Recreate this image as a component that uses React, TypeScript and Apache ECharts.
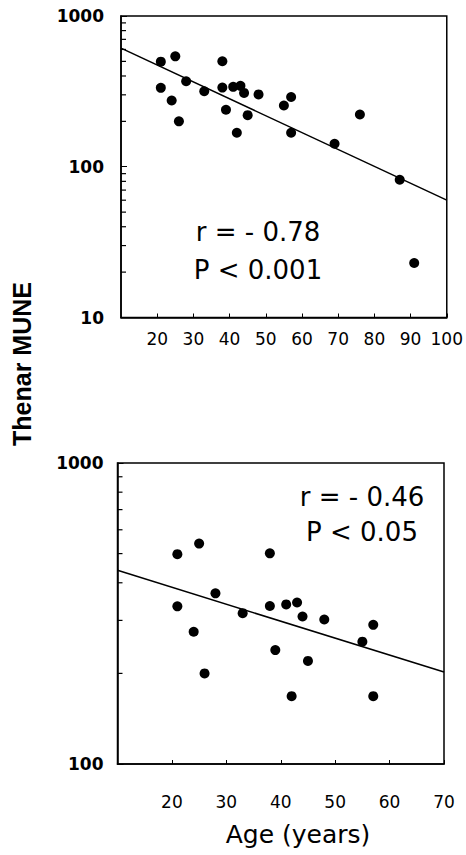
import React, { useEffect, useRef } from "react";
import * as echarts from "echarts";

// Subjects younger than 60 (shown in both panels)
const ageYoung = [21, 25, 38, 21, 24, 26, 28, 33, 38, 41, 43, 44, 48, 39, 45, 42, 55, 57, 57];
const muneYoung = [498, 540, 501, 334, 275, 200, 369, 317, 335, 339, 344, 309, 302, 239, 220, 168, 255, 290, 168];
// Older subjects (top panel only)
const ageOld = [69, 76, 87, 91];
const muneOld = [142, 222, 82, 23];

// Regression lines (end points)
const topFitAge = [10, 100];
const topFitMune = [612, 60];
const bottomFitAge = [10, 70];
const bottomFitMune = [440, 202];

// Axis tick labels / ranges
const topXTicks = [20, 30, 40, 50, 60, 70, 80, 90, 100];
const bottomXTicks = [20, 30, 40, 50, 60, 70];
const topMinorY = [20, 30, 40, 50, 60, 70, 80, 90, 200, 300, 400, 500, 600, 700, 800, 900];
const bottomMinorY = [200, 300, 400, 500, 600, 700, 800, 900];

const topStats = ["r = - 0.78", "P < 0.001"];
const bottomStats = ["r = - 0.46", "P < 0.05"];

const FONT = "DejaVu Sans";

export default function App() {
  const ref = useRef<HTMLDivElement>(null);
  useEffect(() => {
    if (!ref.current) return;
    const chart = echarts.init(ref.current, null, { renderer: "svg" });

    const allTop = ageYoung.map((a, i) => [a, muneYoung[i]]).concat(ageOld.map((a, i) => [a, muneOld[i]]));
    const allBottom = ageYoung.map((a, i) => [a, muneYoung[i]]);

    const minorTick = (xMin: number) => (params: any, api: any) => {
      const p = api.coord([xMin, api.value(1)]);
      return {
        type: "line",
        shape: { x1: p[0], y1: p[1], x2: p[0] + 5, y2: p[1] },
        style: { stroke: "#000", lineWidth: 1.2 },
      };
    };

    const xLabelBase = { fontFamily: FONT, fontSize: 17, color: "#000" };
    const yLabelBase = { fontFamily: FONT, fontWeight: "bold", fontSize: 17, color: "#000" };

    chart.setOption({
      animation: false,
      backgroundColor: "#fff",
      grid: [
        { left: 121, top: 16, right: 18.5, height: 301.5, show: true, borderColor: "#000", borderWidth: 1.5 },
        { left: 117.5, top: 463, right: 22, height: 301, show: true, borderColor: "#000", borderWidth: 1.5 },
      ],
      xAxis: [
        {
          gridIndex: 0,
          type: "value",
          min: 10,
          max: 100,
          interval: 10,
          axisLine: { lineStyle: { color: "#000", width: 1.5 } },
          axisTick: { inside: true, length: 4, lineStyle: { color: "#000" } },
          splitLine: { show: false },
          axisLabel: {
            ...xLabelBase,
            margin: 13,
            showMinLabel: false,
            showMaxLabel: true,
            formatter: (v: number) => (topXTicks.includes(v) ? String(v) : ""),
          },
        },
        {
          gridIndex: 1,
          type: "value",
          min: 10,
          max: 70,
          interval: 10,
          axisLine: { lineStyle: { color: "#000", width: 1.5 } },
          axisTick: { inside: true, length: 4, lineStyle: { color: "#000" } },
          splitLine: { show: false },
          axisLabel: {
            ...xLabelBase,
            margin: 29,
            showMinLabel: false,
            showMaxLabel: true,
            formatter: (v: number) => (bottomXTicks.includes(v) ? String(v) : ""),
          },
        },
      ],
      yAxis: [
        {
          gridIndex: 0,
          type: "log",
          logBase: 10,
          min: 10,
          max: 1000,
          axisLine: { lineStyle: { color: "#000", width: 1.5 } },
          axisTick: { inside: true, length: 6, lineStyle: { color: "#000" } },
          splitLine: { show: false },
          axisLabel: { ...yLabelBase, margin: 17, formatter: (v: number) => String(Math.round(v)) },
        },
        {
          gridIndex: 1,
          type: "log",
          logBase: 10,
          min: 100,
          max: 1000,
          axisLine: { lineStyle: { color: "#000", width: 1.5 } },
          axisTick: { inside: true, length: 6, lineStyle: { color: "#000" } },
          splitLine: { show: false },
          axisLabel: { ...yLabelBase, margin: 14, formatter: (v: number) => String(Math.round(v)) },
        },
      ],
      series: [
        {
          type: "scatter",
          xAxisIndex: 0,
          yAxisIndex: 0,
          data: allTop,
          symbolSize: 10,
          itemStyle: { color: "#000", opacity: 1 },
        },
        {
          type: "line",
          xAxisIndex: 0,
          yAxisIndex: 0,
          data: topFitAge.map((a, i) => [a, topFitMune[i]]),
          symbol: "none",
          lineStyle: { color: "#000", width: 1.5 },
        },
        {
          type: "scatter",
          xAxisIndex: 1,
          yAxisIndex: 1,
          data: allBottom,
          symbolSize: 10,
          itemStyle: { color: "#000", opacity: 1 },
        },
        {
          type: "line",
          xAxisIndex: 1,
          yAxisIndex: 1,
          data: bottomFitAge.map((a, i) => [a, bottomFitMune[i]]),
          symbol: "none",
          lineStyle: { color: "#000", width: 1.5 },
        },
        {
          type: "custom",
          xAxisIndex: 0,
          yAxisIndex: 0,
          data: topMinorY.map((v) => [10, v]),
          encode: { x: 0, y: 1 },
          renderItem: minorTick(10),
          silent: true,
          clip: false,
        },
        {
          type: "custom",
          xAxisIndex: 1,
          yAxisIndex: 1,
          data: bottomMinorY.map((v) => [10, v]),
          encode: { x: 0, y: 1 },
          renderItem: minorTick(10),
          silent: true,
          clip: false,
        },
      ],
      graphic: [
        {
          type: "text",
          x: 258,
          y: 232,
          style: { text: topStats[0], fontFamily: FONT, fontSize: 26, fill: "#000", align: "center", verticalAlign: "middle" },
        },
        {
          type: "text",
          x: 258,
          y: 270,
          style: { text: topStats[1], fontFamily: FONT, fontSize: 26, fill: "#000", align: "center", verticalAlign: "middle" },
        },
        {
          type: "text",
          x: 362,
          y: 497,
          style: { text: bottomStats[0], fontFamily: FONT, fontSize: 26, fill: "#000", align: "center", verticalAlign: "middle" },
        },
        {
          type: "text",
          x: 362,
          y: 532,
          style: { text: bottomStats[1], fontFamily: FONT, fontSize: 26, fill: "#000", align: "center", verticalAlign: "middle" },
        },
        {
          type: "text",
          x: 22,
          y: 364,
          rotation: Math.PI / 2,
          style: {
            text: "Thenar MUNE",
            fontFamily: "Liberation Sans",
            fontWeight: "bold",
            fontSize: 25,
            fill: "#000",
            align: "center",
            verticalAlign: "middle",
          },
        },
        {
          type: "text",
          x: 298,
          y: 834,
          style: { text: "Age (years)", fontFamily: FONT, fontSize: 25, fill: "#000", align: "center", verticalAlign: "middle" },
        },
      ],
    });
    return () => chart.dispose();
  }, []);
  return <div ref={ref} style={{ position: "fixed", left: 0, top: 0, width: 466, height: 855 }} />;
}
